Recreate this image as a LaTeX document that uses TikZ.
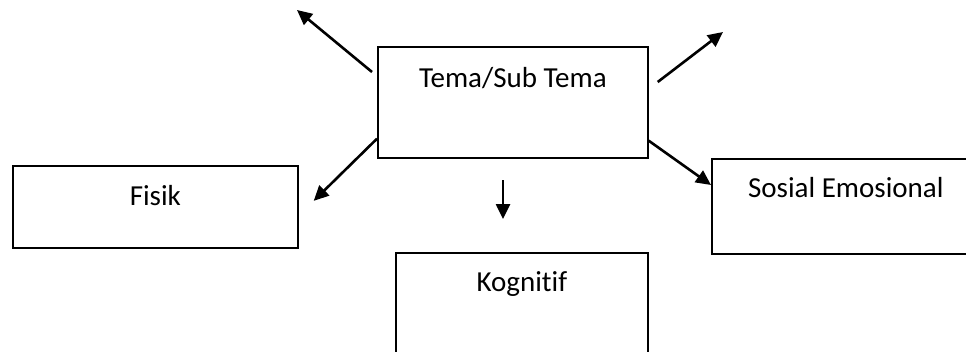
\documentclass[tikz,border=0pt]{standalone}
\usepackage{fontspec}
\setmainfont{Carlito}[Ligatures={NoCommon}]
\usetikzlibrary{arrows.meta,calc}
\begin{document}
\begin{tikzpicture}[x=1pt,y=-1pt,
  box/.style={draw,line width=1.7pt,rectangle,inner sep=0pt,anchor=north west},
  lbl/.style={anchor=base,inner sep=0pt,font=\fontsize{29}{35}\selectfont},
  arr/.style={line width=2.6pt,-{Triangle[length=15pt,width=14pt]}}]
\useasboundingbox (0,0) rectangle (966,351);
\clip (0,0) rectangle (966,351);

% boxes
\node[box,minimum width=270pt,minimum height=111pt] (tema) at (377,46) {};
\node[box,minimum width=285pt,minimum height=82pt] (fisik) at (12,165) {};
\node[box,minimum width=268pt,minimum height=95pt] (sosial) at (711,158) {};
\node[box,minimum width=252pt,minimum height=140pt] (kog) at (395,252) {};

% labels, set near the top of each box
\node[lbl] (temaT) at ($(tema.north)+(0,41)$) {Tema/Sub Tema};
\node[lbl] (fisikT) at ($(fisik.north)+(0,40)$) {Fisik};
\node[lbl] (sosialT) at ($(sosial.north)+(0,39)$) {Sosial Emosional};
\node[lbl] (kogT) at ($(kog.north)+(0,39)$) {Kogni\kern0pt t\kern0pt if};

% free ends of the arrows
\coordinate (ulS) at ($(tema.north west)+(-5,26)$);
\coordinate (ulE) at (297,10);
\coordinate (urS) at ($(tema.north east)+(9,36)$);
\coordinate (urE) at (723,32);
\coordinate (llS) at ($(tema.south west)+(0,-20)$);
\coordinate (llE) at ($(fisik.east)+(15,-6)$);
\coordinate (dnS) at (503,180);
\coordinate (dnE) at (503,219);
\coordinate (lrS) at ($(tema.south east)+(0,-18)$);
\coordinate (lrE) at ($(sosial.north west)+(0,27)$);

% arrows
\draw[arr] (ulS) -- (ulE);
\draw[arr] (urS) -- (urE);
\draw[arr] (llS) -- (llE);
\draw[arr] (dnS) -- (dnE);
\draw[arr] (lrS) -- (lrE);
\end{tikzpicture}
\end{document}
